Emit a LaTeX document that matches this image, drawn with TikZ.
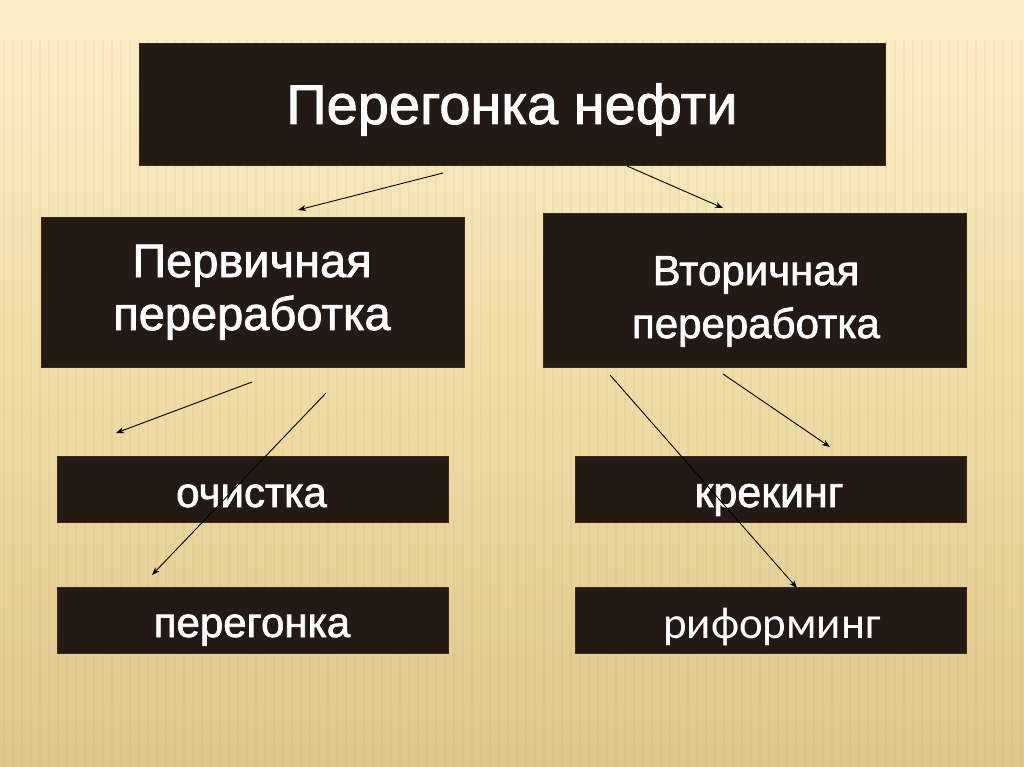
\documentclass[tikz,border=0pt]{standalone}
\usepackage{fontspec}
\setmainfont[FakeBold=1.5]{Liberation Sans}
\newfontfamily\heavy[FakeBold=1.6]{Liberation Sans}
\newfontfamily\carl{Carlito}
\usetikzlibrary{arrows.meta}
\definecolor{boxc}{HTML}{231A15}
\definecolor{boxedge}{HTML}{3A2A1C}
\definecolor{bgtop}{HTML}{FCF0CA}
\definecolor{bgmid}{HTML}{F0DDA6}
\definecolor{bgbot}{HTML}{DEC78B}
\definecolor{stripe}{HTML}{C9A85E}
\tikzset{
  blackbox/.style={rectangle, fill=boxc, draw=boxedge, line width=0.6pt, inner sep=0pt},
  label/.style={text=white, inner sep=0pt, anchor=base},
  conn/.style={draw=black, line width=0.9pt, -{Stealth[length=8pt,width=6pt]}}
}
\begin{document}
\begin{tikzpicture}[x=1pt,y=-1pt]
\useasboundingbox (0,0) rectangle (1024,767);
% background
\shade[top color=bgtop, bottom color=bgbot, middle color=bgmid] (0,0) rectangle (1024,767);
\fill[bgtop, opacity=0.6] (0,0) rectangle (1024,30);
\foreach \i in {0,...,113} {
  \draw[stripe, line width=2.5pt, opacity=0.12] (\i*9+4,40) -- (\i*9+4,767);
}
% boxes
\node[blackbox, minimum width=746pt, minimum height=122pt] (top) at (512,104) {};
\node[blackbox, minimum width=423pt, minimum height=150pt] (prim) at (252.5,292) {};
\node[blackbox, minimum width=423pt, minimum height=154pt] (sec) at (754.5,290) {};
\node[blackbox, minimum width=391pt, minimum height=66pt] (ochist) at (252.5,489) {};
\node[blackbox, minimum width=391pt, minimum height=66pt] (pereg) at (252.5,620) {};
\node[blackbox, minimum width=391pt, minimum height=66pt] (kreking) at (770.5,489) {};
\node[blackbox, minimum width=391pt, minimum height=66pt] (reform) at (770.5,620) {};
% texts
\node[label, font=\heavy\fontsize{56}{60}\selectfont] (ttop) at (512,124) {Перегонка нефти};
\node[label, font=\heavy\fontsize{47}{50}\selectfont] (tprim1) at (252,277) {Первичная};
\node[label, font=\heavy\fontsize{47}{50}\selectfont] (tprim2) at (252,330) {переработка};
\node[label, font=\heavy\fontsize{42}{46}\selectfont] (tsec1) at (756,285) {Вторичная};
\node[label, font=\heavy\fontsize{42}{46}\selectfont] (tsec2) at (756,338) {переработка};
\node[label, font=\heavy\fontsize{42}{46}\selectfont] (tochist) at (251.5,507) {очистка};
\node[label, font=\heavy\fontsize{42}{46}\selectfont] (tpereg) at (252,637) {перегонка};
\node[label, font=\heavy\fontsize{43}{46}\selectfont] (tkreking) at (769,507) {крекинг};
\node[label, font=\carl\fontsize{45}{48}\selectfont] (treform) at (772,638) {риформинг};
% connector end points
\coordinate (s1) at (443,173); \coordinate (e1) at (298,210);
\coordinate (s2) at (627,166); \coordinate (e2) at (723,208);
\coordinate (s3) at (252,382); \coordinate (e3) at (116,433);
\coordinate (s4) at (326,393); \coordinate (e4) at (152,575);
\coordinate (s5) at (610,375); \coordinate (e5) at (797,588);
\coordinate (s6) at (723,374); \coordinate (e6) at (830,447);
\draw[conn] (s1) -- (e1);
\draw[conn] (s2) -- (e2);
\draw[conn] (s3) -- (e3);
\draw[conn] (s4) -- (e4);
\draw[conn] (s5) -- (e5);
\draw[conn] (s6) -- (e6);
\end{tikzpicture}
\end{document}
